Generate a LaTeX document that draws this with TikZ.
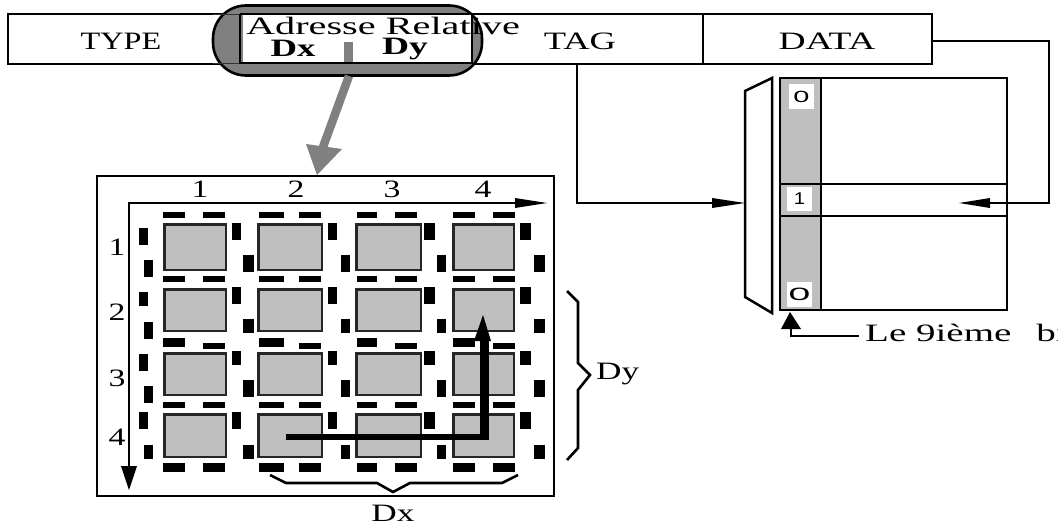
\documentclass[tikz,border=0pt]{standalone}
\usepackage{fontspec}
\setmainfont{Liberation Serif}
\newfontfamily\cellfont{Liberation Sans}
\usetikzlibrary{calc,arrows.meta}
\definecolor{chipgray}{gray}{0.75}
\definecolor{lozgray}{gray}{0.5}
\tikzset{
  px/.style={x=1pt,y=-1pt},
  barcell/.style={draw=black,line width=2.3pt,fill=white,inner sep=0pt},
  chip/.style={draw=black!85,line width=2.5pt,fill=chipgray,inner sep=0pt},
  lbl/.style={inner sep=0pt,font=\fontsize{25}{25}\selectfont},
  blbl/.style={inner sep=0pt,font=\fontsize{25}{25}\selectfont\bfseries},
  wire/.style={line width=2.4pt},
  bit/.style={fill=white,inner sep=0pt,font=\cellfont\fontsize{17}{17}\selectfont,text=black}
}
\newcommand{\blackbar}[4]{\fill[black] (#1,#2) rectangle (#3,#4);}
\newcommand{\xs}[2]{\scalebox{#1}[1]{#2}}
\begin{document}
\begin{tikzpicture}[px]
\useasboundingbox (0,0) rectangle (1061,525);
% top bar
\node[barcell,minimum width=232pt,minimum height=50pt] (type) at (124,39) {};
\node[barcell,minimum width=231pt,minimum height=50pt] (tag) at (587.5,39) {};
\node[barcell,minimum width=229pt,minimum height=50pt] (data) at (817.5,39) {};
% lozenge
\node[draw=black,line width=2.6pt,fill=lozgray,rounded corners=33pt,minimum width=269pt,minimum height=70pt,inner sep=0pt] (loz) at (347.5,40.5) {};
\draw[black!60!lozgray,line width=1pt] (213,14) -- (239,14) (213,63) -- (239,63);
\node[draw=none,fill=white,minimum width=228pt,minimum height=47pt,inner sep=0pt] (addr) at (356.5,38.5) {};
\draw[line width=2.4pt] (240,14) -- (240,64) (472,14) -- (472,64);
\draw[line width=1.8pt] (240,14) -- (472,14);
\draw[line width=2.6pt] (240,63) -- (472,63);
% grey arrow
\fill[lozgray] (344,42) rectangle (353,62);
\coordinate (gs) at (349,76);
\coordinate (ge) at (323,147);
\draw[lozgray,line width=8.5pt] (gs) -- (ge);
\fill[lozgray] (306,144) -- (342,149) -- (317,175) -- cycle;
\node[lbl] (ttype) at (121,41) {\xs{1.29}{TYPE}};
\node[lbl] (ttag) at (580,41) {\xs{1.46}{TAG}};
\node[lbl] (tdata) at (827,41) {\xs{1.5}{DATA}};
\node[lbl] (taddr) at (383,25.5) {\xs{1.61}{Adresse Relative}};
\node[blbl] (tdx) at (293,48) {\xs{1.47}{Dx}};
\node[blbl] (tdy) at (405,49.5) {\xs{1.5}{Dy}};
% frame
\node[draw=black,line width=2.5pt,minimum width=457pt,minimum height=320pt,inner sep=0pt] (frame) at (325.5,336) {};
% axes
\coordinate (org) at (129,203);
\coordinate (xend) at (516,203);
\coordinate (yend) at (129,467);
\draw[line width=2.6pt] (xend) -- (org) -- (yend);
\fill (515,198) -- (547,203) -- (515,208) -- cycle;
\fill (121,466) -- (137,466) -- (129,490) -- cycle;
\foreach \t/\x in {1/200,2/296,3/392,4/483} \node[lbl] (cl\t) at (\x,189) {\xs{1.35}{\t}};
\foreach \t/\y in {1/247,2/312,3/378,4/437} \node[lbl] (rl\t) at (117,\y) {\xs{1.35}{\t}};
% chips
\foreach \cn/\xa/\xb in {1/163/227,2/257/323,3/355/422,4/452/515}
  \foreach \rn/\ya/\yb in {1/223/271,2/288/332,3/352/396,4/413/458}
    \node[chip,minimum width=\xb pt-\xa pt-2.5pt,minimum height=\yb pt-\ya pt-2.5pt] (c\cn\rn) at ({(\xa+\xb)/2},{(\ya+\yb)/2}) {};
% horizontal dashes
\foreach \ya/\yb/\yc/\yd in {212/218/212/218,276/282/276/282,338/347/343/349,402/408/402/408,463/472/463/472}
  \foreach \xa/\xb/\xc/\xd in {163/185/203/225,259/284/299/321,357/377/395/417,453/475/493/515}{
    \blackbar{\xa}{\ya}{\xb}{\yb}
    \blackbar{\xc}{\yc}{\xd}{\yd}
  }
% vertical dashes left column
\foreach \ya/\yb/\yc/\yd in {228/245/260/277,292/306/322/339,354/371/386/403,412/429/445/459}{
  \blackbar{139}{\ya}{148}{\yb}
  \blackbar{144}{\yc}{153}{\yd}
}
% vertical dashes other columns
\foreach \xa/\xb/\xc/\xd in {232/241/243/254,328/337/341/350,424/435/437/446,520/531/534/545}
  \foreach \ya/\yb/\yc/\yd in {223/240/255/272,287/304/319/333,351/365/380/397,412/429/445/459}{
    \blackbar{\xa}{\ya}{\xb}{\yb}
    \blackbar{\xc}{\yc}{\xd}{\yd}
  }
% L path
\coordinate (ls) at (286,437);
\coordinate (le) at (484.5,340);
\draw[line width=6pt] (ls) -- (488,437);
\draw[line width=9pt] (le) -- (484.5,440);
\fill (474,341) -- (491,341) -- (483,315) -- cycle;
% braces
\draw[line width=2.6pt] (270,475) -- (286,483) -- (377,483) -- (393,492) -- (410,483) -- (502,483) -- (518,475);
\draw[line width=2.6pt] (567,291) -- (578,302) -- (578,363) -- (590,375) -- (578,390) -- (578,448) -- (567,460);
\node[lbl] (ldx) at (393,513) {\xs{1.41}{Dx}};
\node[lbl,anchor=west] (ldy) at (596,374) {\xs{1.41}{Dy}};
% memory table
\node[draw=black,line width=2.5pt,minimum width=227pt,minimum height=232pt,inner sep=0pt] (table) at (893.5,194) {};
\node[draw=black,line width=2.5pt,fill=chipgray,minimum width=41pt,minimum height=232pt,inner sep=0pt] (col) at (800.5,194) {};
\draw[line width=2.5pt] (780,184) -- (1008,184) (780,216) -- (1008,216);
\node[bit,minimum width=25pt,minimum height=25pt] (b0) at (801.5,96.5) {\scalebox{1.7}[0.95]{0}};
\node[bit,minimum width=25pt,minimum height=24pt] (b1) at (799.5,199) {\scalebox{1.2}[1]{1}};
\node[bit,minimum width=25pt,minimum height=25pt] (b2) at (799.5,294.5) {\scalebox{2.3}[1.05]{0}};
% mux
\coordinate (m1) at (745,91);
\coordinate (m2) at (772,78);
\coordinate (m3) at (772,313);
\coordinate (m4) at (745,297);
\coordinate (mw) at (745,203);
\draw[line width=2.5pt] (m1) -- (m2) -- (m3) -- (m4) -- cycle;
% connectors
\coordinate (tagout) at (577,64);
\draw[wire] (tagout) -- (tagout |- mw) -- (715,203);
\fill (712,198) -- (mw) -- (712,208) -- cycle;
\coordinate (dr) at (1049,41);
\coordinate (dt) at (990,203);
\draw[line width=2.6pt] (data.east |- dr) -- (dr) -- (1049,203) -- (dt);
\fill (990,198) -- (959,203) -- (990,208) -- cycle;
\coordinate (ar) at (859,336);
\coordinate (ac) at (791,336);
\draw[line width=2.6pt] (ar) -- (ac) -- (791,328);
\fill (781,329) -- (801,329) -- (790,312) -- cycle;
\begin{scope}
\clip (860,320) rectangle (1057,360);
\node[lbl,anchor=base west] (nine) at (865,341) {\xs{1.56}{Le 9ième\hspace{16pt}bi}};
\end{scope}
\end{tikzpicture}
\end{document}
